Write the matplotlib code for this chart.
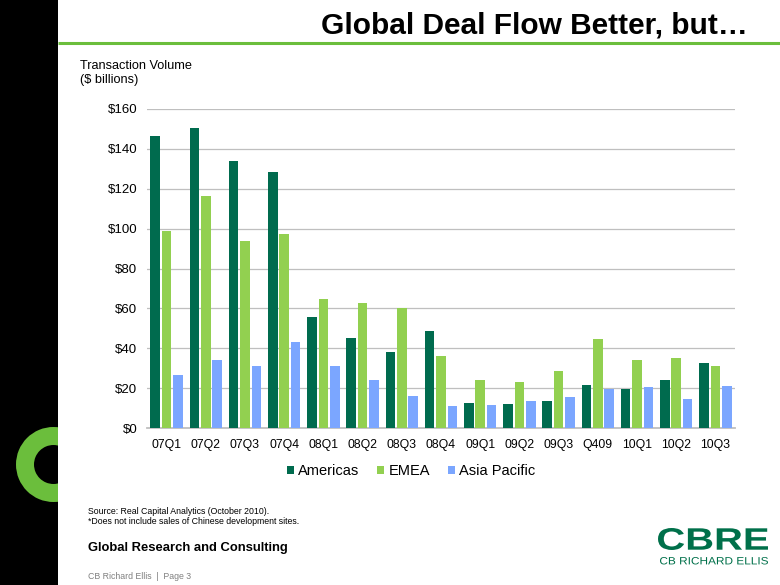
import matplotlib
matplotlib.use("Agg")
import matplotlib.pyplot as plt
import numpy as np
from matplotlib.patches import Rectangle, Wedge, PathPatch
from matplotlib.textpath import TextPath
from matplotlib.font_manager import FontProperties
from matplotlib.transforms import Affine2D

plt.rcParams['font.family'] = ['Liberation Sans', 'DejaVu Sans']

# ---- data ----
quarters = ["07Q1", "07Q2", "07Q3", "07Q4", "08Q1", "08Q2", "08Q3", "08Q4",
            "09Q1", "09Q2", "09Q3", "Q409", "10Q1", "10Q2", "10Q3"]
americas = [146.4, 150.3, 133.9, 128.5, 55.6, 44.9, 38.2, 48.7,
            12.4, 12.0, 13.4, 21.4, 19.4, 24.1, 32.6]
emea = [98.6, 116.3, 93.7, 97.1, 64.9, 62.9, 60.4, 36.0,
        24.1, 22.9, 28.5, 44.4, 34.0, 35.3, 31.1]
asia_pacific = [26.4, 34.3, 31.3, 43.0, 31.0, 23.9, 16.1, 10.9,
                11.5, 13.4, 15.6, 19.4, 20.8, 14.4, 20.9]
series_names = ["Americas", "EMEA", "Asia Pacific"]
y_ticks = [0, 20, 40, 60, 80, 100, 120, 140, 160]
y_tick_labels = ["$0", "$20", "$40", "$60", "$80", "$100", "$120", "$140", "$160"]

colors = ["#006B4E", "#92D050", "#7BA6FF"]
lime = "#6BBE3C"
W, H = 780, 585

fig = plt.figure(figsize=(7.8, 5.85), dpi=100)
fig.patch.set_facecolor("white")

# ---- decoration overlay in pixel coords ----
deco = fig.add_axes([0, 0, 1, 1], zorder=0)
deco.set_xlim(0, W)
deco.set_ylim(H, 0)
deco.axis("off")
bar_rect = Rectangle((0, 0), 58, H, facecolor="black", edgecolor="none")
deco.add_patch(bar_rect)
ring = Wedge((53.5, 464.5), 37.5, 0, 360, width=18.0, facecolor=lime, edgecolor="none")
deco.add_patch(ring)
ring.set_clip_path(bar_rect)
deco.plot([58, W], [43, 43], color=lime, lw=2.2, solid_capstyle="butt")

def boxed_text(s, x0, x1, ytop, ybot, weight, color):
    fp = FontProperties(family="Liberation Sans", weight=weight)
    tp = TextPath((0, 0), s, size=100, prop=fp)
    ext = tp.get_extents()
    sx = (x1 - x0) / ext.width
    sy = (ybot - ytop) / ext.height
    tr = Affine2D().translate(-ext.x0, -ext.y0).scale(sx, -sy).translate(x0, ybot)
    deco.add_patch(PathPatch(tr.transform_path(tp), facecolor=color, edgecolor="none"))

cbre_green = "#00704A"
boxed_text("CBRE", 658, 768, 528, 550, "bold", cbre_green)
boxed_text("CB RICHARD ELLIS", 660, 768, 557, 564.5, "normal", cbre_green)

def px(x, y):
    return x / W, 1 - y / H

fig.text(*px(748, 33), "Global Deal Flow Better, but\u2026", ha="right", va="baseline",
         fontsize=21.5, fontweight="bold", color="black")
fig.text(*px(80, 69), "Transaction Volume", ha="left", va="baseline", fontsize=9.2)
fig.text(*px(80, 83.5), "($ billions)", ha="left", va="baseline", fontsize=9.2)
fig.text(*px(88, 514.5), "Source: Real Capital Analytics (October 2010).", ha="left",
         va="baseline", fontsize=6.3)
fig.text(*px(88, 524.5), "*Does not include sales of Chinese development sites.", ha="left",
         va="baseline", fontsize=6.3)
fig.text(*px(88, 551), "Global Research and Consulting", ha="left", va="baseline",
         fontsize=9.4, fontweight="bold")
fig.text(*px(88, 579), "CB Richard Ellis  |  Page 3", ha="left", va="baseline",
         fontsize=6.3, color="#808080")

# ---- chart ----
ax = fig.add_axes([147 / W, 1 - 428 / H, (735 - 147) / W, (428 - 109) / H], zorder=2)
ax.patch.set_alpha(0)
x = np.arange(len(quarters))
bw = 0.245
off = 0.293
handles = []
for i, (vals, name) in enumerate(zip([americas, emea, asia_pacific], series_names)):
    h = ax.bar(x + (i - 1) * off, vals, width=bw, color=colors[i], label=name, zorder=3)
    handles.append(h)
ax.set_xlim(-0.5, len(quarters) - 0.5)
ax.set_ylim(0, 160)
ax.set_yticks(y_ticks)
ax.set_yticklabels(y_tick_labels)
ax.set_xticks(x)
ax.set_xticklabels(quarters)
ax.tick_params(axis="y", length=0, pad=7, labelsize=9.5, labelcolor="black")
ax.tick_params(axis="x", length=0, pad=8, labelsize=8.8, labelcolor="black")
ax.grid(axis="y", color="#BFBFBF", lw=0.9, zorder=0)
for s in ["top", "right", "left"]:
    ax.spines[s].set_visible(False)
ax.spines["bottom"].set_color("#BFBFBF")
ax.spines["bottom"].set_linewidth(1.3)

fig.legend(handles=handles, labels=series_names, loc="center",
           bbox_to_anchor=px(411, 471), ncol=3, frameon=False, fontsize=10.5,
           handlelength=0.5, handleheight=0.5, handletextpad=0.3, columnspacing=1.2,
           borderpad=0)

fig.savefig("out.png", dpi=100)
